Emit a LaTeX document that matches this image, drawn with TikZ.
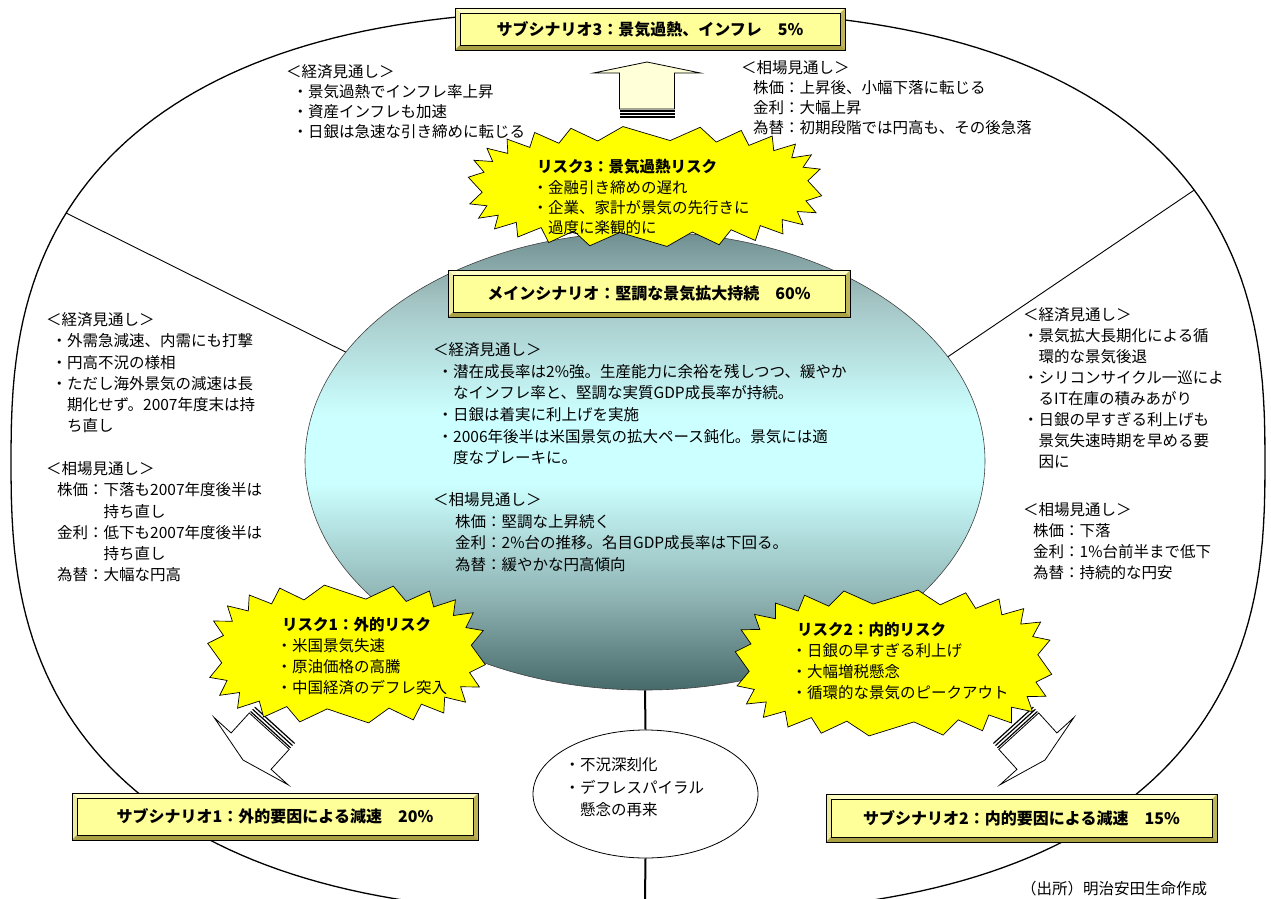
\documentclass[tikz,border=0pt]{standalone}
\usepackage{fontspec}
\setmainfont{Noto Sans CJK JP}
\usetikzlibrary{shapes.geometric}
\definecolor{boxface}{HTML}{FFFF99}
\definecolor{bevtop}{HTML}{FDFDC4}
\definecolor{bevleft}{HTML}{EEEAA0}
\definecolor{bevright}{HTML}{BDB557}
\definecolor{bevbottom}{HTML}{A9A143}
\definecolor{burstyellow}{HTML}{FFFF00}
\definecolor{arrowcream}{HTML}{FFFFD8}
\definecolor{ellbot}{HTML}{46696A}
\definecolor{ellmidlow}{HTML}{8FB3B3}
\definecolor{elllight}{HTML}{CCFFFF}
\definecolor{ellmidtop}{HTML}{A4C4C4}
\definecolor{elltop}{HTML}{6E8E8F}
\pgfdeclareverticalshading{mainshade}{100bp}{color(0bp)=(ellbot); color(25bp)=(ellbot); color(35bp)=(ellmidlow); color(47.5bp)=(elllight); color(55bp)=(elllight); color(67.5bp)=(ellmidtop); color(75bp)=(elltop); color(100bp)=(elltop)}
\newcommand\topstrut{\rule{0pt}{16pt}}
\newcommand\bevelbox[6]{%
  \fill[bevright] (#2,#3) rectangle (#4,#5);
  \fill[bevtop] (#2,#3) -- (#4,#3) -- ({#4-5},{#3+5}) -- ({#2+5},{#3+5}) -- cycle;
  \fill[bevleft] (#2,#3) -- ({#2+5},{#3+5}) -- ({#2+5},{#5-5}) -- (#2,#5) -- cycle;
  \fill[bevbottom] (#2,#5) -- ({#2+5},{#5-5}) -- ({#4-5},{#5-5}) -- (#4,#5) -- cycle;
  \draw[line width=0.9pt] (#2,#3) rectangle (#4,#5);
  \draw[line width=0.4pt, fill=boxface] ({#2+5},{#3+5}) rectangle ({#4-5},{#5-5});
  \node[boxtitle] (#1) at ({(#2+#4)/2},{(#3+#5)/2}) {#6};}
\newcommand\burst[7]{%
  \draw[burststyle] plot[samples at={0,...,#7}, variable=\k]
    ({#1+(#3-mod(\k,2)*#5)*sp(cos(\k*180/#6+4),0.7)},{#2+(#4-mod(\k,2)*#5)*sp(sin(\k*180/#6+4),0.7)}) -- cycle;}
\newcommand\blockarrow[8]{%
  \begin{scope}[shift={(#1,#2)}, rotate=#3]
    \draw[arrowline, fill=#8] (0,0) -- (-#4,#5) -- (-#4,#6) -- ({-#7+9},#6) -- ({-#7+9},-#6) -- (-#4,-#6) -- (-#4,-#5) -- cycle;
    \foreach \q in {7,4,1} \draw[line width=1.2pt] ({-#7+\q},#6) -- ({-#7+\q},-#6);
  \end{scope}}
\begin{document}
\begin{tikzpicture}[x=1pt,y=-1pt,
  declare function={sp(\u,\e)=\u*pow(abs(\u)+0.00001,\e-1);},
  outline/.style={line width=1.3pt},
  vline/.style={line width=2pt},
  dline/.style={line width=0.9pt},
  burststyle/.style={draw=black, line width=0.7pt, fill=burstyellow},
  arrowline/.style={draw=black, line width=0.8pt},
  boxtitle/.style={inner sep=0pt, font=\fontsize{16}{18}\selectfont\bfseries},
  txt/.style={anchor=north west, inner sep=0pt, align=left, font=\fontsize{15.5}{21.2}\selectfont},
  mainell/.style={ellipse, minimum width=680pt, minimum height=458pt, inner sep=0pt, draw=black!75, line width=0.6pt, shading=mainshade},
  smallell/.style={ellipse, minimum width=225pt, minimum height=128pt, inner sep=0pt, draw=black, line width=0.8pt, fill=white}]
\useasboundingbox (0,0) rectangle (1271,899);
\clip (0,0) rectangle (1271,899);
\fill[white] (0,0) rectangle (1271,899);
% outer outline
\draw[outline] plot[samples=240, domain=0:360, variable=\t] ({638+627*sp(cos(\t),0.77)},{462+452*sp(sin(\t),0.77)}) -- cycle;
% central ellipse
\node[mainell] (mainell) at (645,461) {};
\coordinate (dl) at ({638+627*sp(cos(207.45),0.77)},{462+452*sp(sin(207.45),0.77)});
\coordinate (dr) at ({638+627*sp(cos(328.87),0.77)},{462+452*sp(sin(328.87),0.77)});
\coordinate (cbot) at (645,899);
\draw[dline] (dl) -- (mainell.160.3);
\draw[dline] (dr) -- (mainell.19.7);
\node[smallell] (small) at (645.5,794) {};
\draw[vline] (mainell.south) -- (small.north);
\draw[vline] (small.south) -- (cbot);
% block arrows
\blockarrow{647}{62}{90}{11}{53.5}{27.5}{56}{arrowcream}
\blockarrow{243}{760}{227.7}{12}{50}{27}{48}{white}
\blockarrow{1045}{760}{-47.7}{12}{50}{27}{48}{white}
% risk bursts
\burst{645}{186.5}{177}{60}{14}{26}{51}
\burst{346.5}{654}{139}{69}{14}{22}{43}
\burst{893.5}{663}{158.5}{73}{14}{24}{47}
% scenario boxes
\bevelbox{sub3}{455}{8}{845}{50}{サブシナリオ3：景気過熱、インフレ　5\%}
\bevelbox{mainbox}{448}{270}{850}{317}{メインシナリオ：堅調な景気拡大持続　60\%}
\bevelbox{sub1}{72}{793}{478}{840}{サブシナリオ1：外的要因による減速　20\%}
\bevelbox{sub2}{826}{794}{1217}{842}{サブシナリオ2：内的要因による減速　15\%}
% texts
\node[txt, font=\fontsize{15.5}{20}\selectfont] (tl) at (286,61.5) {\topstrut＜経済見通し＞\\
\hspace*{6.5pt}・景気過熱でインフレ率上昇\\
\hspace*{6.5pt}・資産インフレも加速\\
\hspace*{6.5pt}・日銀は急速な引き締めに転じる};
\node[txt, font=\fontsize{15.5}{20}\selectfont] (tr) at (741,57.5) {\topstrut＜相場見通し＞\\
\hspace*{12pt}株価：上昇後、小幅下落に転じる\\
\hspace*{12pt}金利：大幅上昇\\
\hspace*{12pt}為替：初期段階では円高も、その後急落};
\node[txt, font=\fontsize{15.5}{20.3}\selectfont] (r3text) at (532.5,156.5) {\topstrut\hspace*{4.5pt}{\bfseries リスク3：景気過熱リスク}\\
・金融引き締めの遅れ\\
・企業、家計が景気の先行きに\\
\phantom{・}過度に楽観的に};
\node[txt, font=\fontsize{15.5}{21.2}\selectfont] (lefttext) at (46,309.5) {\topstrut＜経済見通し＞\\
\hspace*{5.5pt}・外需急減速、内需にも打撃\\
\hspace*{5.5pt}・円高不況の様相\\
\hspace*{5.5pt}・ただし海外景気の減速は長\\
\hspace*{5.5pt}\phantom{・}期化せず。2007年度末は持\\
\hspace*{5.5pt}\phantom{・}ち直し\\[21.8pt]
＜相場見通し＞\\
\hspace*{11pt}株価：下落も2007年度後半は\\
\hspace*{11pt}\phantom{株価：}持ち直し\\
\hspace*{11pt}金利：低下も2007年度後半は\\
\hspace*{11pt}\phantom{株価：}持ち直し\\
\hspace*{11pt}為替：大幅な円高};
\node[txt, font=\fontsize{15.5}{21}\selectfont] (righttext) at (1023,304.5) {\topstrut＜経済見通し＞\\
・景気拡大長期化による循\\
\phantom{・}環的な景気後退\\
・シリコンサイクル一巡によ\\
\phantom{・}るIT在庫の積みあがり\\
・日銀の早すぎる利上げも\\
\phantom{・}景気失速時期を早める要\\
\phantom{・}因に\\[27pt]
＜相場見通し＞\\
\hspace*{10pt}株価：下落\\
\hspace*{10pt}金利：1\%台前半まで低下\\
\hspace*{10pt}為替：持続的な円安};
\node[txt, font=\fontsize{15.5}{21.6}\selectfont] (centertext) at (433,339.5) {\topstrut＜経済見通し＞\\
\hspace*{4.5pt}・潜在成長率は2\%強。生産能力に余裕を残しつつ、緩やか\\
\hspace*{4.5pt}\phantom{・}なインフレ率と、堅調な実質GDP成長率が持続。\\
\hspace*{4.5pt}・日銀は着実に利上げを実施\\
\hspace*{4.5pt}・2006年後半は米国景気の拡大ペース鈍化。景気には適\\
\hspace*{4.5pt}\phantom{・}度なブレーキに。\\[20.4pt]
＜相場見通し＞\\
\hspace*{22pt}株価：堅調な上昇続く\\
\hspace*{22pt}金利：2\%台の推移。名目GDP成長率は下回る。\\
\hspace*{22pt}為替：緩やかな円高傾向};
\node[txt, font=\fontsize{15.5}{21}\selectfont] (r1text) at (276.5,614.5) {\topstrut\hspace*{5.5pt}{\bfseries リスク1：外的リスク}\\
・米国景気失速\\
・原油価格の高騰\\
・中国経済のデフレ突入};
\node[txt, font=\fontsize{15.5}{21}\selectfont] (r2text) at (791.5,619.5) {\topstrut\hspace*{5.5pt}{\bfseries リスク2：内的リスク}\\
・日銀の早すぎる利上げ\\
・大幅増税懸念\\
・循環的な景気のピークアウト};
\node[txt, font=\fontsize{15.5}{22.5}\selectfont] (smalltext) at (564.5,754.5) {\topstrut・不況深刻化\\
・デフレスパイラル\\
\phantom{・}懸念の再来};
\node[txt, font=\fontsize{15.5}{20}\selectfont] (source) at (1021,878) {\topstrut（出所）明治安田生命作成};
\end{tikzpicture}
\end{document}
